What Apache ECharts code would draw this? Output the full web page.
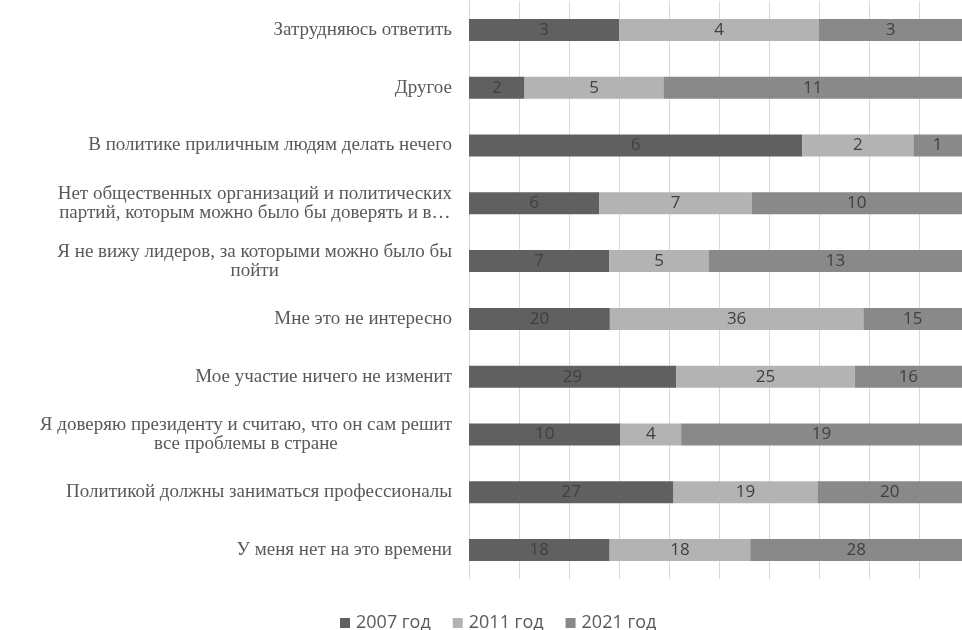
<!DOCTYPE html>
<html><head><meta charset="utf-8">
<script src="https://cdn.jsdelivr.net/npm/echarts@6/dist/echarts.min.js"></script>
<style>html,body{margin:0;padding:0;background:#fff}#c{width:962px;height:630px}</style>
</head><body><div id="c"></div>
<script>
const categories = [
  "Затрудняюсь ответить",
  "Другое",
  "В политике приличным людям делать нечего",
  "Нет общественных организаций и политических\nпартий, которым можно было бы доверять и в…",
  "Я не вижу лидеров, за которыми можно было бы\nпойти",
  "Мне это не интересно",
  "Мое участие ничего не изменит",
  "Я доверяю президенту и считаю, что он сам решит\nвсе проблемы в стране",
  "Политикой должны заниматься профессионалы",
  "У меня нет на это времени"
];
const seriesNames = ["2007 год", "2011 год", "2021 год"];
const v2007 = [3, 2, 6, 6, 7, 20, 29, 10, 27, 18];
const v2011 = [4, 5, 2, 7, 5, 36, 25, 4, 19, 18];
const v2021 = [3, 11, 1, 10, 13, 15, 16, 19, 20, 28];
const colors = ["#606060", "#b3b3b3", "#898989"];

const all = [v2007, v2011, v2021];
const totals = categories.map((_, i) => v2007[i] + v2011[i] + v2021[i]);

const chart = echarts.init(document.getElementById('c'));
chart.setOption({
  animation: false,
  grid: { left: 469, top: 1, right: 0, height: 578, containLabel: false },
  legend: {
    top: 609, left: 335,
    itemWidth: 10, itemHeight: 10, itemGap: 22,
    icon: 'rect',
    textStyle: { color: '#595959', fontSize: 18, fontFamily: 'Open Sans', padding: [0, 0, 0, 1] },
    data: seriesNames
  },
  xAxis: {
    // the plot runs on past the right edge of the picture: 100% would sit at x=969
    type: 'value', min: 0, max: 98.6, interval: 10,
    axisLabel: { show: false }, axisTick: { show: false }, axisLine: { show: false },
    splitLine: { lineStyle: { color: '#d9d9d9', width: 1 } }
  },
  yAxis: {
    type: 'category', inverse: true, data: categories,
    axisLine: { show: true, lineStyle: { color: '#d9d9d9' } },
    axisTick: { show: false },
    axisLabel: {
      margin: 17,
      formatter: v => v.split('\n').map(l => '{a|' + l + '}').join('\n'),
      rich: { a: { align: 'center', fontFamily: 'Liberation Serif', fontSize: 19, color: '#595959', lineHeight: 19 } }
    }
  },
  series: all.map((arr, si) => ({
    name: seriesNames[si], type: 'bar', stack: 'total', barWidth: 22,
    itemStyle: { color: colors[si] },
    label: {
      show: true, position: 'inside', color: '#404040', fontSize: 17, fontFamily: 'Open Sans',
      formatter: p => arr[p.dataIndex]
    },
    data: arr.map((v, i) => v / totals[i] * 100)
  }))
});
</script></body></html>
